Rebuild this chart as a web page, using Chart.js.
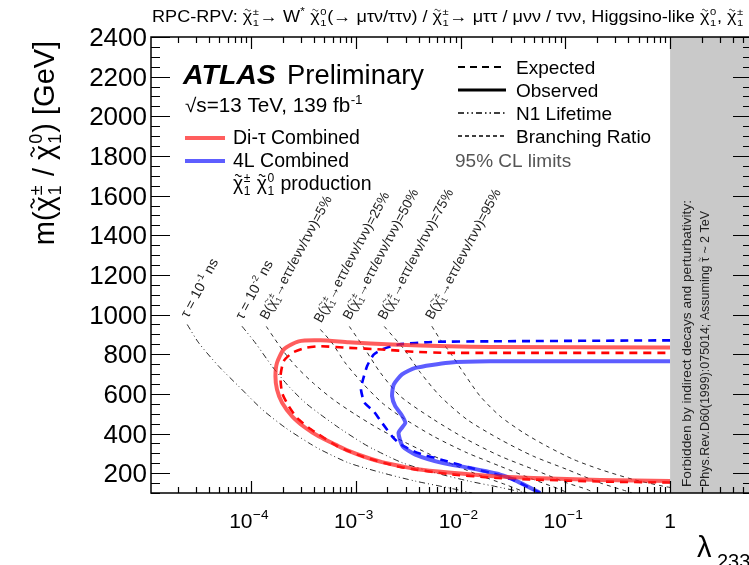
<!DOCTYPE html>
<html>
<head>
<meta charset="utf-8">
<script src="https://cdn.jsdelivr.net/npm/chart.js@4/dist/chart.umd.min.js"></script>
<style>
  html, body { margin: 0; padding: 0; background: #fff; overflow: hidden; }
  #wrap { position: relative; width: 760px; height: 565px; }
</style>
</head>
<body>
<div id="wrap"><canvas id="c" width="760" height="565"></canvas></div>
<script>
// ---- limits: lambda_233 (x, log) vs chargino/neutralino mass in GeV (y) ----
const diTauObsLambda = [1, 0.215, 0.0493, 0.0192, 0.00768, 0.0037, 0.00266, 0.00178, 0.00119, 0.000855, 0.000662, 0.000442, 0.00033, 0.000247, 0.000198, 0.000177, 0.000171, 0.000177, 0.000205, 0.000285, 0.000459, 0.000855, 0.00222, 0.00768, 0.0192, 1];
const diTauObsMass   = [160, 166, 176, 186, 203, 221, 236, 256, 284, 312, 340, 386, 429, 487, 555, 622, 689, 757, 824, 865, 870, 860, 849, 840, 837, 834];

const diTauExpLambda = [1, 0.215, 0.0493, 0.0192, 0.00768, 0.00266, 0.00119, 0.000662, 0.000442, 0.000355, 0.000275, 0.000229, 0.000198, 0.000191, 0.000205, 0.000247, 0.00033, 0.000459, 0.000855, 0.00178, 0.0037, 0.00768, 0.0192, 1];
const diTauExpMass   = [153, 158, 168, 178, 196, 231, 282, 337, 395, 429, 479, 538, 605, 689, 765, 807, 832, 840, 832, 824, 812, 807, 807, 807];

const fourLObsLambda = [1, 0.0192, 0.00768, 0.0037, 0.00276, 0.0023, 0.00222, 0.00238, 0.00272, 0.00297, 0.00256, 0.0028, 0.0037, 0.00665, 0.01192, 0.0239, 0.0345, 0.0576];
const fourLObsMass   = [764, 764, 757, 731, 698, 647, 588, 538, 496, 454, 404, 336, 294, 252, 227, 193, 160, 100];

const fourLExpLambda = [1, 0.0192, 0.00534, 0.00256, 0.00178, 0.00148, 0.00128, 0.00115, 0.00112, 0.00121, 0.00148, 0.00178, 0.00222, 0.00256, 0.00286, 0.00384, 0.00742, 0.01238, 0.0192, 0.0298, 0.0576];
const fourLExpMass   = [870, 865, 862, 849, 824, 798, 739, 656, 622, 556, 512, 454, 386, 353, 336, 303, 260, 227, 202, 173, 100];

// neutralino lifetime contours
const tau1Lambda = [2.46e-5, 3.17e-5, 4.92e-5, 7.64e-5, 1.28e-4, 2.13e-4, 3.55e-4, 4.59e-4, 8.55e-4, 1.78e-3, 3.70e-3, 7.69e-3, 1.29e-2];
const tau1Mass   = [950, 857, 739, 638, 521, 429, 353, 319, 252, 202, 160, 126, 100];
const tau2Lambda = [8.2e-5, 1.1e-4, 1.59e-4, 2.29e-4, 3.30e-4, 4.6e-4, 6.9e-4, 1.15e-3, 1.5e-3, 2.8e-3, 5.7e-3, 1.2e-2, 2.5e-2, 4.2e-2];
const tau2Mass   = [941, 857, 739, 638, 555, 496, 429, 353, 319, 252, 202, 160, 126, 100];

// chargino branching-ratio contours
const br5Lambda  = [1.40e-4, 1.65e-4, 2.05e-4, 2.75e-4, 3.97e-4, 6.11e-4, 9.91e-4, 1.71e-3, 2.97e-3, 5.14e-3, 8.89e-3, 1.54e-2, 2.67e-2, 4.33e-2];
const br5Mass    = [940, 884, 813, 733, 652, 571, 496, 420, 355, 294, 239, 188, 143, 100];
const br25Lambda = [4.59e-4, 5.93e-4, 7.94e-4, 1.15e-3, 1.78e-3, 2.66e-3, 5.52e-3, 1.15e-2, 2.39e-2, 4.97e-2, 8.93e-2, 0.106];
const br25Mass   = [925, 857, 756, 656, 555, 487, 386, 303, 235, 168, 118, 100];
const br50Lambda = [8.68e-4, 1.23e-3, 1.71e-3, 2.66e-3, 5.52e-3, 1.15e-2, 2.39e-2, 4.97e-2, 0.1035, 0.161, 0.188];
const br50Mass   = [940, 824, 708, 588, 471, 370, 286, 219, 151, 118, 100];
const br75Lambda = [1.87e-3, 2.90e-3, 4.13e-3, 6.40e-3, 1.15e-2, 2.39e-2, 4.93e-2, 0.1035, 0.215, 0.386, 0.434];
const br75Mass   = [940, 824, 708, 588, 471, 370, 286, 219, 151, 109, 100];
const br95Lambda = [5.32e-3, 6.40e-3, 7.97e-3, 1.07e-2, 1.54e-2, 2.39e-2, 3.99e-2, 6.67e-2, 0.120, 0.215, 0.447, 0.863, 1];
const br95Mass   = [941, 874, 807, 706, 588, 487, 404, 336, 269, 219, 168, 134, 128];

const brPercents   = ['5%', '25%', '50%', '75%', '95%'];
const tauExponents = ['-1', '-2'];

// axes
const yTicks = [200, 400, 600, 800, 1000, 1200, 1400, 1600, 1800, 2000, 2200, 2400];
const xTickExps = [-4, -3, -2, -1, 0];
const X_MIN = 1.11e-5, X_MAX = 6.05, Y_MIN = 100, Y_MAX = 2400;

const FONT = '"Liberation Sans", Arial, Helvetica, sans-serif';

function pts(xs, ys) { return xs.map((x, i) => ({ x: x, y: ys[i] })); }

// ---- rich text (chi-tilde with stacked sub/superscripts) ----
function drawTildeMark(ctx, cx, cy, w, lw) {
  ctx.save();
  ctx.beginPath();
  ctx.lineWidth = lw;
  ctx.strokeStyle = ctx.fillStyle;
  const n = 14, amp = w * 0.16;
  for (let i = 0; i <= n; i++) {
    const t = i / n;
    const x = cx - w / 2 + t * w;
    const y = cy - Math.sin(t * Math.PI * 2) * amp;
    if (i === 0) ctx.moveTo(x, y); else ctx.lineTo(x, y);
  }
  ctx.stroke();
  ctx.restore();
}

function richText(ctx, segs, x, y, size, opt) {
  opt = opt || {};
  const st = opt.style || 'normal', wt = opt.weight || 'normal';
  const f = s => `${st} ${wt} ${s}px ${FONT}`;
  const items = segs.map(s => (typeof s === 'string' ? { t: s } : s));
  let total = 0;
  const widths = items.map(it => {
    let w;
    if (it.chi) {
      ctx.font = f(size); const cw = ctx.measureText('χ').width;
      ctx.font = f(size * 0.62);
      w = cw + size * 0.03 + Math.max(ctx.measureText(it.sup || '').width, ctx.measureText(it.sub || '').width) + size * 0.04;
    } else if (it.sup != null) {
      ctx.font = f(size * 0.65); w = ctx.measureText(it.sup).width + size * 0.04;
    } else if (it.sub != null) {
      ctx.font = f(size * 0.7); w = ctx.measureText(it.sub).width;
    } else if (it.tilde) {
      ctx.font = f(size); w = ctx.measureText(it.tilde).width;
    } else {
      ctx.font = f(size); w = ctx.measureText(it.t).width;
    }
    total += w;
    return w;
  });
  const sx = opt.fit ? opt.fit / total : 1;
  ctx.save();
  ctx.translate(x, y);
  if (opt.rot) ctx.rotate(opt.rot);
  if (opt.align === 'center') ctx.translate(-total * sx / 2, 0);
  else if (opt.align === 'right') ctx.translate(-total * sx, 0);
  ctx.scale(sx, 1);
  ctx.textAlign = 'left';
  ctx.textBaseline = 'alphabetic';
  ctx.fillStyle = opt.color || '#000';
  let cx = 0;
  items.forEach((it, i) => {
    if (it.chi) {
      ctx.font = f(size);
      ctx.fillText('χ', cx, 0);
      const cw = ctx.measureText('χ').width;
      drawTildeMark(ctx, cx + cw * 0.52, -size * 0.74, cw * 0.62, size * 0.055);
      ctx.font = f(size * 0.62);
      if (it.sup) ctx.fillText(it.sup, cx + cw + size * 0.03, -size * 0.42);
      if (it.sub) ctx.fillText(it.sub, cx + cw + size * 0.03, size * 0.24);
    } else if (it.sup != null) {
      ctx.font = f(size * 0.65);
      ctx.fillText(it.sup, cx + size * 0.02, -size * 0.42);
    } else if (it.sub != null) {
      ctx.font = f(size * 0.7);
      ctx.fillText(it.sub, cx, size * 0.25);
    } else if (it.tilde) {
      ctx.font = f(size);
      ctx.fillText(it.tilde, cx, 0);
      const cw = ctx.measureText(it.tilde).width;
      drawTildeMark(ctx, cx + cw * 0.5, -size * 0.72, cw * 0.75, size * 0.06);
    } else {
      ctx.font = f(size);
      ctx.fillText(it.t, cx, 0);
    }
    cx += widths[i];
  });
  ctx.restore();
  return total * sx;
}

const CHI_PM = { chi: true, sup: '±', sub: '1' };
const CHI_0  = { chi: true, sup: '0', sub: '1' };

// ---- frame, ticks, labels and annotations ----
const atlasDecor = {
  id: 'atlasDecor',
  afterDatasetsDraw(chart) {
    const ctx = chart.ctx, a = chart.chartArea;
    const xs = chart.scales.x, ys = chart.scales.y;
    // region excluded by indirect decays
    const xg = xs.getPixelForValue(1);
    ctx.save();
    ctx.fillStyle = '#c9c9c9';
    ctx.fillRect(xg, a.top, a.right - xg, a.bottom - a.top);
    ctx.restore();
    richText(ctx, ['Forbidden by indirect decays and perturbativity:'], xg + 21, a.bottom - 6, 13, { rot: -Math.PI / 2, color: '#222', fit: 287 });
    richText(ctx, ['Phys.Rev.D60(1999):075014; Assuming ', { tilde: 'τ' }, ' ~ 2 TeV'], xg + 39, a.bottom - 6, 13, { rot: -Math.PI / 2, color: '#222', fit: 276 });

    // contour labels, placed at the start of each contour
    const ang = -62 * Math.PI / 180;
    const lab = (lx, ly, segs, size) => {
      const px = xs.getPixelForValue(lx), py = ys.getPixelForValue(ly);
      richText(ctx, segs, px + 1, py - 6, size, { rot: ang, color: '#222' });
    };
    lab(tau1Lambda[0], tau1Mass[0], ['τ = 10', { sup: tauExponents[0] }, ' ns'], 14);
    lab(tau2Lambda[0], tau2Mass[0], ['τ = 10', { sup: tauExponents[1] }, ' ns'], 14);
    const brStarts = [[br5Lambda, br5Mass], [br25Lambda, br25Mass], [br50Lambda, br50Mass], [br75Lambda, br75Mass], [br95Lambda, br95Mass]];
    brStarts.forEach((s, i) => {
      lab(s[0][0], s[1][0], ['B(', CHI_PM, '→eττ/eνν/τνν)=' + brPercents[i]], 13.6);
    });

    // frame
    ctx.save();
    ctx.strokeStyle = '#000';
    ctx.lineWidth = 1.5;
    ctx.strokeRect(a.left, a.top, a.right - a.left, a.bottom - a.top);
    ctx.lineWidth = 1.2;
    ctx.beginPath();
    // y ticks (both sides)
    for (let v = 100; v <= Y_MAX; v += 50) {
      const py = Math.round(ys.getPixelForValue(v)) + 0.5;
      const L = (v % 200 === 0) ? 19 : 9;
      ctx.moveTo(a.left, py); ctx.lineTo(a.left + L, py);
      ctx.moveTo(a.right, py); ctx.lineTo(a.right - L, py);
    }
    // x ticks (log, both sides)
    for (let e = -5; e <= 0; e++) {
      for (let k = 1; k <= 9; k++) {
        const v = k * Math.pow(10, e);
        if (v < X_MIN || v > X_MAX) continue;
        const px = Math.round(xs.getPixelForValue(v)) + 0.5;
        const L = (k === 1) ? 12 : 6;
        ctx.moveTo(px, a.bottom); ctx.lineTo(px, a.bottom - L);
        ctx.moveTo(px, a.top); ctx.lineTo(px, a.top + L);
      }
    }
    ctx.stroke();
    ctx.restore();
  },
  afterDraw(chart) {
    const ctx = chart.ctx, a = chart.chartArea;
    const xs = chart.scales.x, ys = chart.scales.y;
    // tick labels
    ctx.save();
    ctx.fillStyle = '#000';
    ctx.font = `26px ${FONT}`;
    ctx.textAlign = 'right';
    ctx.textBaseline = 'alphabetic';
    yTicks.forEach(v => ctx.fillText(String(v), a.left - 4, ys.getPixelForValue(v) + 9));
    ctx.restore();
    xTickExps.forEach(e => {
      const px = xs.getPixelForValue(Math.pow(10, e));
      if (e === 0) richText(ctx, ['1'], px, a.bottom + 35, 21, { align: 'center' });
      else richText(ctx, ['10', { sup: '−' + Math.abs(e) }], px - 2, a.bottom + 35, 21, { align: 'center' });
    });
    // axis titles
    richText(ctx, ['λ'], 697, 557, 29);
    richText(ctx, ['233'], 717, 568, 20);
    richText(ctx, ['m(', CHI_PM, ' / ', CHI_0, ') [GeV]'], 54, 143, 29, { rot: -Math.PI / 2, align: 'center' });

    // header
    richText(ctx, ['RPC-RPV: ', CHI_PM, '→ W', { sup: '*' }, ' ', CHI_0, '(→ μτν/ττν) / ', CHI_PM, '→ μττ / μνν / τνν, Higgsino-like ', CHI_0, ', ', CHI_PM],
      152, 22, 16, { fit: 592 });

    // ATLAS label block
    richText(ctx, ['ATLAS'], 183, 84, 28.5, { weight: 'bold', style: 'italic' });
    richText(ctx, ['Preliminary'], 287, 84, 27, { fit: 137 });
    richText(ctx, ['√s=13 TeV, 139 fb', { sup: '-1' }], 185, 112, 19.5, { fit: 178 });

    ctx.save();
    ctx.lineWidth = 4;
    ctx.strokeStyle = 'rgba(255,40,40,0.75)';
    ctx.beginPath(); ctx.moveTo(185, 138); ctx.lineTo(225, 138); ctx.stroke();
    ctx.strokeStyle = 'rgba(40,40,255,0.75)';
    ctx.beginPath(); ctx.moveTo(185, 161); ctx.lineTo(225, 161); ctx.stroke();
    ctx.restore();
    richText(ctx, ['Di-τ Combined'], 233, 144, 19.5);
    richText(ctx, ['4L Combined'], 233, 167, 19.5);
    richText(ctx, [CHI_PM, ' ', CHI_0, ' production'], 233, 190, 19.5);

    // line-style legend
    const sample = (y, dash, lw) => {
      ctx.save();
      ctx.strokeStyle = '#000';
      ctx.lineWidth = lw;
      ctx.setLineDash(dash);
      ctx.beginPath(); ctx.moveTo(458, y); ctx.lineTo(506, y); ctx.stroke();
      ctx.restore();
    };
    sample(67, [7, 5], 2);
    sample(90, [], 3);
    sample(113, [6, 3, 1.5, 3, 1.5, 3], 1.5);
    sample(136, [4, 3], 1.5);
    richText(ctx, ['Expected'], 516, 74, 19);
    richText(ctx, ['Observed'], 516, 97, 19);
    richText(ctx, ['N1 Lifetime'], 516, 120, 19);
    richText(ctx, ['Branching Ratio'], 516, 143, 19);
    richText(ctx, ['95% CL limits'], 455, 167, 19, { color: '#555' });
  }
};

const thin = (dash) => ({ borderColor: '#2a2a2a', borderWidth: 1, borderDash: dash, tension: 0.25 });
const DASHDOT = [6, 3, 1, 3, 1, 3];
const BRDASH = [4, 4];

const datasets = [
  Object.assign({ label: 'Di-tau observed', data: pts(diTauObsLambda, diTauObsMass), borderColor: 'rgba(255,30,30,0.72)', borderWidth: 4, tension: 0.2 }),
  Object.assign({ label: '4L observed', data: pts(fourLObsLambda, fourLObsMass), borderColor: 'rgba(30,30,255,0.72)', borderWidth: 4, tension: 0.2 }),
  Object.assign({ label: 'Di-tau expected', data: pts(diTauExpLambda, diTauExpMass), borderColor: '#ff0000', borderWidth: 2.6, borderDash: [8, 6], tension: 0.2 }),
  Object.assign({ label: '4L expected', data: pts(fourLExpLambda, fourLExpMass), borderColor: '#0000ff', borderWidth: 2.6, borderDash: [8, 6], tension: 0.2 }),
  Object.assign({ label: 'tau 0.1 ns', data: pts(tau1Lambda, tau1Mass) }, thin(DASHDOT)),
  Object.assign({ label: 'tau 0.01 ns', data: pts(tau2Lambda, tau2Mass) }, thin(DASHDOT)),
  Object.assign({ label: 'BR 5%', data: pts(br5Lambda, br5Mass) }, thin(BRDASH)),
  Object.assign({ label: 'BR 25%', data: pts(br25Lambda, br25Mass) }, thin(BRDASH)),
  Object.assign({ label: 'BR 50%', data: pts(br50Lambda, br50Mass) }, thin(BRDASH)),
  Object.assign({ label: 'BR 75%', data: pts(br75Lambda, br75Mass) }, thin(BRDASH)),
  Object.assign({ label: 'BR 95%', data: pts(br95Lambda, br95Mass) }, thin(BRDASH))
].map(d => Object.assign({ showLine: true, pointRadius: 0, fill: false }, d));

new Chart(document.getElementById('c'), {
  type: 'scatter',
  data: { datasets: datasets },
  options: {
    responsive: false,
    animation: false,
    devicePixelRatio: 1,
    layout: { padding: { left: 151, right: 8, top: 37, bottom: 72 } },
    plugins: { legend: { display: false }, tooltip: { enabled: false }, title: { display: false } },
    scales: {
      x: { type: 'logarithmic', min: X_MIN, max: X_MAX, display: false },
      y: { type: 'linear', min: Y_MIN, max: Y_MAX, display: false }
    }
  },
  plugins: [atlasDecor]
});
</script>
</body>
</html>
